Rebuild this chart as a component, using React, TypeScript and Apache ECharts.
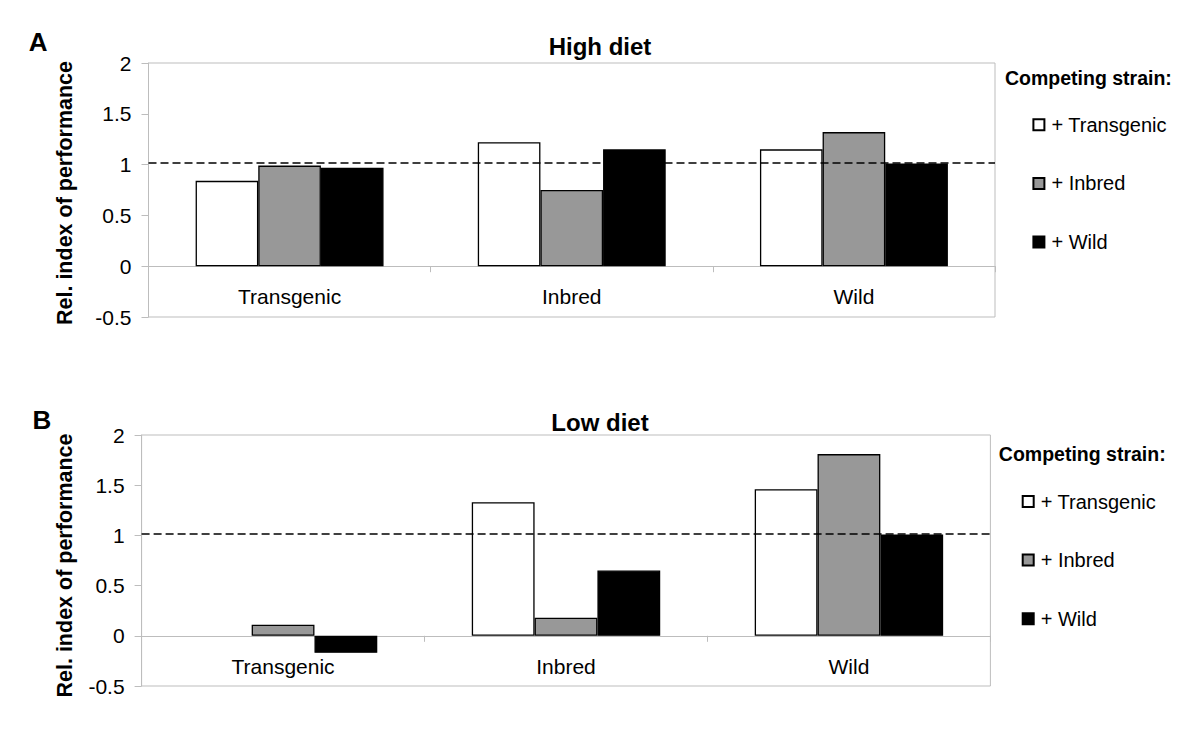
import React, { useEffect, useRef } from 'react';
import * as echarts from 'echarts';

// ---------- data ----------
const categories = ['Transgenic', 'Inbred', 'Wild'];
const competitorNames = ['+ Transgenic', '+ Inbred', '+ Wild'];
const competitorColors = ['#ffffff', '#989898', '#000000'];

// High diet (panel A): values per focal strain, one array per competing strain
const highVsTransgenic = [0.84, 1.22, 1.15];
const highVsInbred = [0.99, 0.75, 1.32];
const highVsWild = [0.97, 1.15, 1.01];

// Low diet (panel B)
const lowVsTransgenic: (number | null)[] = [null, 1.33, 1.46];
const lowVsInbred = [0.11, 0.18, 1.81];
const lowVsWild = [-0.17, 0.65, 1.01];

const referenceLevel = 1.02;
const yMin = -0.5;
const yMax = 2;
const yStep = 0.5;

const panelTitles = ['High diet', 'Low diet'];
const panelLetters = ['A', 'B'];
const yAxisTitle = 'Rel. index of performance';
const legendTitle = 'Competing strain:';

// ---------- layout ----------
const FONT = '"Liberation Sans", Arial, Helvetica, sans-serif';
const GRAY = '#bdbdbd';

const layouts = [
  {
    grid: { left: 148.5, top: 63, width: 846.5, height: 254 },
    xLabelMargin: -31.5,
    titleTop: 34,
    letter: { left: 28.7, top: 29 },
    legendTitle: { left: 1005, top: 68.6 },
    legend: { left: 1032.4, top: 113.8 },
    yName: { x: 65, y: 193 },
  },
  {
    grid: { left: 141.6, top: 435, width: 848.8, height: 251 },
    xLabelMargin: -30,
    titleTop: 410.5,
    letter: { left: 32.5, top: 407 },
    legendTitle: { left: 998.8, top: 444.3 },
    legend: { left: 1021.7, top: 490.5 },
    yName: { x: 65, y: 565.5 },
  },
];

const panelSeries = [
  [highVsTransgenic, highVsInbred, highVsWild],
  [lowVsTransgenic, lowVsInbred, lowVsWild],
];

export default function App() {
  const ref = useRef<HTMLDivElement>(null);

  useEffect(() => {
    if (!ref.current) return;
    const chart = echarts.init(ref.current, null, { renderer: 'svg' });

    const grids: any[] = [];
    const xAxes: any[] = [];
    const yAxes: any[] = [];
    const series: any[] = [];
    const titles: any[] = [];
    const legends: any[] = [];
    const graphics: any[] = [];

    layouts.forEach((lay, p) => {
      grids.push({
        ...lay.grid,
        show: true,
        borderColor: GRAY,
        borderWidth: 1,
        backgroundColor: 'transparent',
      });
      xAxes.push({
        gridIndex: p,
        type: 'category',
        data: categories,
        axisLine: { show: true, onZero: true, lineStyle: { color: GRAY, width: 1 } },
        axisTick: { show: true, length: 6, lineStyle: { color: GRAY } },
        axisLabel: { margin: lay.xLabelMargin, fontSize: 21, color: '#000', fontFamily: FONT },
        splitLine: { show: false },
      });
      yAxes.push({
        gridIndex: p,
        type: 'value',
        min: yMin,
        max: yMax,
        interval: yStep,
        axisLine: { show: true, lineStyle: { color: GRAY, width: 1 } },
        axisTick: { show: true, length: 7, lineStyle: { color: GRAY } },
        axisLabel: { margin: 17, fontSize: 21, color: '#000', fontFamily: FONT },
        splitLine: { show: false },
      });
      panelSeries[p].forEach((vals, i) => {
        const s: any = {
          type: 'bar',
          name: competitorNames[i],
          xAxisIndex: p,
          yAxisIndex: p,
          data: vals,
          barWidth: '22.2%',
          barGap: '0%',
          itemStyle: { color: competitorColors[i], borderColor: '#000', borderWidth: 1.3 },
          emphasis: { disabled: true },
        };
        if (i === 2) {
          s.markLine = {
            silent: true,
            symbol: ['none', 'none'],
            label: { show: false },
            lineStyle: { color: '#000', type: [8, 4], width: 1.5 },
            data: [{ yAxis: referenceLevel }],
          };
        }
        series.push(s);
      });
      titles.push({
        text: panelTitles[p],
        left: 'center',
        top: lay.titleTop,
        padding: 0,
        textStyle: { fontSize: 24, lineHeight: 24, fontWeight: 'bold', color: '#000', fontFamily: FONT },
      });
      titles.push({
        text: panelLetters[p],
        left: lay.letter.left,
        top: lay.letter.top,
        padding: 0,
        textStyle: { fontSize: 26, lineHeight: 26, fontWeight: 'bold', color: '#000', fontFamily: FONT },
      });
      titles.push({
        text: legendTitle,
        left: lay.legendTitle.left,
        top: lay.legendTitle.top,
        padding: 0,
        textStyle: { fontSize: 19.5, lineHeight: 19.5, fontWeight: 'bold', color: '#000', fontFamily: FONT },
      });
      legends.push({
        orient: 'vertical',
        left: lay.legend.left,
        top: lay.legend.top,
        padding: 0,
        icon: 'rect',
        itemWidth: 11,
        itemHeight: 11,
        itemGap: 36.6,
        selectedMode: false,
        data: competitorNames,
        textStyle: { fontSize: 20, lineHeight: 22, color: '#000', fontFamily: FONT, padding: [0, 0, 0, 2] },
      });
      graphics.push({
        type: 'text',
        x: lay.yName.x,
        y: lay.yName.y,
        rotation: Math.PI / 2,
        silent: true,
        style: {
          text: yAxisTitle,
          fontSize: 21.5,
          fontWeight: 'bold',
          fontFamily: FONT,
          fill: '#000',
          align: 'center',
          verticalAlign: 'middle',
          textAlign: 'center',
          textVerticalAlign: 'middle',
        },
      });
    });

    chart.setOption({
      animation: false,
      backgroundColor: '#ffffff',
      textStyle: { fontFamily: FONT },
      title: titles,
      legend: legends,
      grid: grids,
      xAxis: xAxes,
      yAxis: yAxes,
      series,
      graphic: graphics,
      tooltip: { show: false },
    });

    return () => chart.dispose();
  }, []);

  return (
    <div
      ref={ref}
      style={{ position: 'absolute', left: 0, top: 0, width: 1200, height: 738, background: '#fff' }}
    />
  );
}
